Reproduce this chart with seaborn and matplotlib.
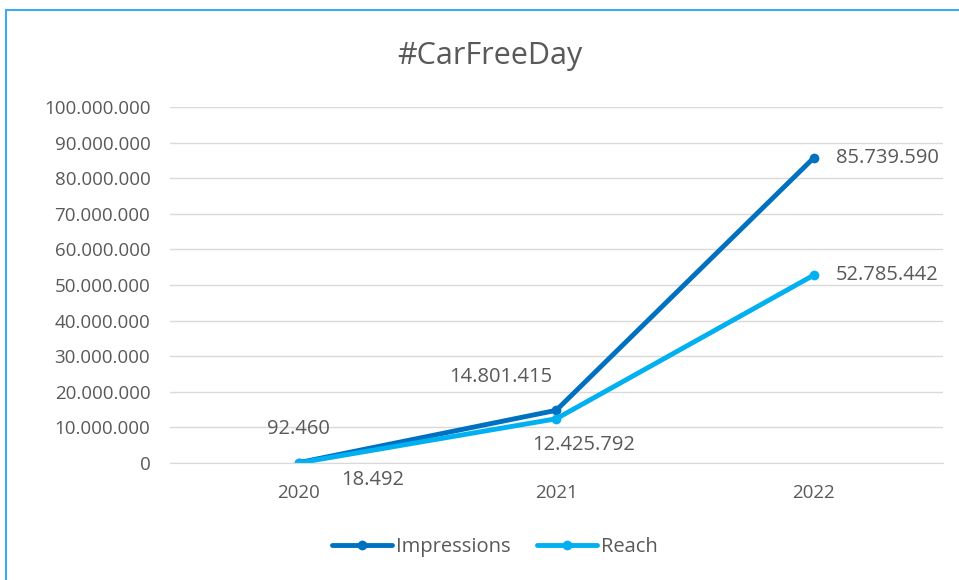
import pandas as pd
import matplotlib.pyplot as plt
import seaborn as sns
from matplotlib.patches import Rectangle
from matplotlib.ticker import FuncFormatter

# data
years = ['2020', '2021', '2022']
impressions = [92460, 14801415, 85739590]
reach = [18492, 12425792, 52785442]

df = pd.DataFrame({
    'year': years * 2,
    'value': impressions + reach,
    'series': ['Impressions'] * 3 + ['Reach'] * 3,
})

sns.set_style('white')
plt.rcParams['font.family'] = ['Open Sans', 'DejaVu Sans']
text_col = '#595959'

fig = plt.figure(figsize=(9.59, 5.8), dpi=100)
ax = fig.add_axes([0.177, 0.2017, 0.806, 0.6138])

palette = {'Impressions': '#0070C0', 'Reach': '#00B0F0'}
sns.lineplot(data=df, x='year', y='value', hue='series', palette=palette,
             marker='o', markersize=7, markeredgewidth=0, linewidth=3.5,
             sort=False, ax=ax)

ax.set_xlim(-0.5, 2.5)
ax.set_ylim(0, 100000000)
ax.set_yticks(range(0, 100000001, 10000000))
ax.yaxis.set_major_formatter(FuncFormatter(lambda v, p: f'{int(v):,}'.replace(',', '.')))
ax.grid(axis='y', color='#D9D9D9', linewidth=1)
ax.set_axisbelow(True)
for s in ['top', 'right', 'left']:
    ax.spines[s].set_visible(False)
ax.spines['bottom'].set_color('#D9D9D9')
ax.tick_params(axis='both', length=0, labelsize=13.5, colors=text_col)
ax.tick_params(axis='x', pad=15)
ax.tick_params(axis='y', pad=14)
ax.set_xlabel('')
ax.set_ylabel('')

fmt = lambda v: f'{v:,}'.replace(',', '.')
lab = dict(fontsize=14.5, color=text_col, textcoords='offset points')
# Impressions labels
ax.annotate(fmt(impressions[0]), (0, impressions[0]), xytext=(0, 24), ha='center', va='center', **lab)
ax.annotate(fmt(impressions[1]), (1, impressions[1]), xytext=(-40, 24), ha='center', va='center', **lab)
ax.annotate(fmt(impressions[2]), (2, impressions[2]), xytext=(16, 0), ha='left', va='center', **lab)
# Reach labels
ax.annotate(fmt(reach[0]), (0, reach[0]), xytext=(53, -12), ha='center', va='center', **lab)
ax.annotate(fmt(reach[1]), (1, reach[1]), xytext=(20, -19), ha='center', va='center', **lab)
ax.annotate(fmt(reach[2]), (2, reach[2]), xytext=(16, 0), ha='left', va='center', **lab)

fig.text(0.511, 0.903, '#CarFreeDay', ha='center', va='center', fontsize=22, color=text_col)

handles, labels = ax.get_legend_handles_labels()
ax.legend_.remove()
fig.legend(handles, labels, loc='center', bbox_to_anchor=(0.516, 0.057), ncol=2, frameon=False,
           fontsize=14.5, labelcolor=text_col, handlelength=3.0, handletextpad=0.2, columnspacing=1.3)

# light blue frame (top and left edges)
fig.patches.append(Rectangle((0.006, -0.01), 1.2, 0.993, transform=fig.transFigure,
                             fill=False, edgecolor='#3FA9F5', linewidth=1.5))

fig.savefig('out.png', dpi=100)
